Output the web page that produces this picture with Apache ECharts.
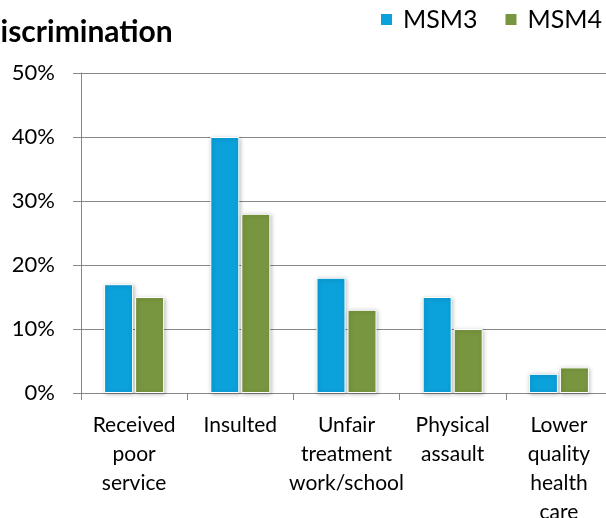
<!DOCTYPE html>
<html>
<head>
<meta charset="utf-8">
<script src="https://cdn.jsdelivr.net/npm/echarts@6/dist/echarts.min.js"></script>
<style>
html,body{margin:0;padding:0;background:#fff;}
#chart{width:606px;height:518px;}
</style>
</head>
<body>
<div id="chart"></div>
<script>
const categories = ["Received\npoor\nservice", "Insulted", "Unfair\ntreatment\nwork/school", "Physical\nassault", "Lower\nquality\nhealth\ncare"];
const msm3 = [17, 40, 18, 15, 3];
const msm4 = [15, 28, 13, 10, 4];
const seriesNames = ["MSM3", "MSM4"];
const yTicks = [0, 10, 20, 30, 40, 50];

const FONT = 'Lato';
const chart = echarts.init(document.getElementById('chart'), null, {renderer: 'canvas'});
const barStyle = (color) => ({
  color: color,
  borderColor: '#fff',
  borderWidth: 1,
  shadowColor: 'rgba(0,0,0,0.25)',
  shadowBlur: 4,
  shadowOffsetX: 1,
  shadowOffsetY: 1
});
chart.setOption({
  animation: false,
  backgroundColor: '#fff',
  title: {
    text: 'Discrimination',
    left: -22,
    top: 17,
    padding: 0,
    textStyle: {fontFamily: FONT, fontWeight: 'bold', fontSize: 30, color: '#000'}
  },
  legend: {
    left: 379,
    top: 7,
    padding: 0,
    itemWidth: 13,
    itemHeight: 13,
    itemGap: 26,
    icon: 'rect',
    textStyle: {fontFamily: FONT, fontSize: 25, color: '#000', padding: [0, 0, 0, 5]},
    data: seriesNames
  },
  grid: {left: 81, top: 73, width: 531, height: 320, containLabel: false, outerBoundsMode: 'none'},
  xAxis: {
    type: 'category',
    data: categories,
    axisLine: {lineStyle: {color: '#878787', width: 1}},
    axisTick: {show: true, length: 7, lineStyle: {color: '#878787'}},
    axisLabel: {interval: 0, fontFamily: FONT, fontSize: 21, color: '#000', lineHeight: 29, margin: 18}
  },
  yAxis: {
    type: 'value',
    min: yTicks[0],
    max: yTicks[yTicks.length - 1],
    interval: 10,
    axisLine: {show: true, lineStyle: {color: '#878787', width: 1}},
    axisTick: {show: true, length: 8, lineStyle: {color: '#878787'}},
    splitLine: {lineStyle: {color: '#878787', width: 1}},
    axisLabel: {formatter: '{value}%', fontFamily: FONT, fontSize: 22, color: '#000', margin: 26}
  },
  series: [
    {name: seriesNames[0], type: 'bar', data: msm3, barWidth: 29, barGap: '7%', itemStyle: barStyle('#0BA1DB')},
    {name: seriesNames[1], type: 'bar', data: msm4, barWidth: 29, barGap: '7%', itemStyle: barStyle('#78963F')}
  ]
});
</script>
</body>
</html>
